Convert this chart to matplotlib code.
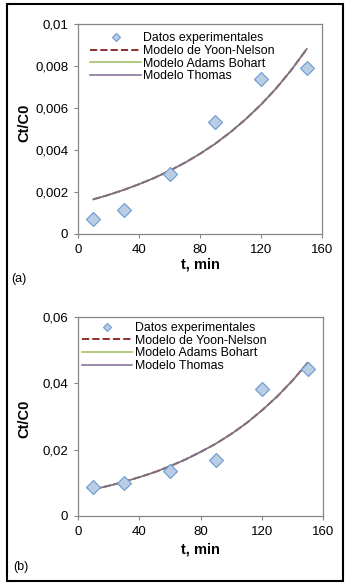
import matplotlib
matplotlib.use("Agg")
import matplotlib.pyplot as plt
from matplotlib.patches import Rectangle

plt.rcParams['font.family'] = ['Liberation Sans', 'DejaVu Sans']

# experimental points
t_exp = [10, 30, 60, 90, 120, 150]
exp_a = [0.00071, 0.00114, 0.00287, 0.00533, 0.00740, 0.00790]
exp_b = [0.00865, 0.0100, 0.01357, 0.01688, 0.0383, 0.0443]

# model curves (the three models overlap)
t_mod = [10, 20, 30, 40, 50, 60, 70, 80, 90, 100, 110, 120, 130, 140, 150]
yn_a = [0.00165, 0.00186, 0.00210, 0.00237, 0.00267, 0.00301, 0.00339, 0.00382,
        0.00430, 0.00485, 0.00547, 0.00616, 0.00694, 0.00782, 0.00881]
ab_a = [0.00165, 0.00186, 0.00210, 0.00237, 0.00267, 0.00301, 0.00339, 0.00382,
        0.00430, 0.00485, 0.00547, 0.00616, 0.00694, 0.00782, 0.00881]
th_a = [0.00165, 0.00186, 0.00210, 0.00237, 0.00267, 0.00301, 0.00339, 0.00382,
        0.00430, 0.00485, 0.00547, 0.00616, 0.00694, 0.00782, 0.00881]
yn_b = [0.0080, 0.0091, 0.0103, 0.0117, 0.0132, 0.0150, 0.0170, 0.0193,
        0.0218, 0.0247, 0.0280, 0.0318, 0.0360, 0.0408, 0.0462]
ab_b = [0.0080, 0.0091, 0.0103, 0.0117, 0.0132, 0.0150, 0.0170, 0.0193,
        0.0218, 0.0247, 0.0280, 0.0318, 0.0360, 0.0408, 0.0462]
th_b = [0.0080, 0.0091, 0.0103, 0.0117, 0.0132, 0.0150, 0.0170, 0.0193,
        0.0218, 0.0247, 0.0280, 0.0318, 0.0360, 0.0408, 0.0462]

xticks = [0, 40, 80, 120, 160]
yticks_a = [0, 0.002, 0.004, 0.006, 0.008, 0.01]
ylabels_a = ['0', '0,002', '0,004', '0,006', '0,008', '0,01']
yticks_b = [0, 0.02, 0.04, 0.06]
ylabels_b = ['0', '0,02', '0,04', '0,06']

W, H = 351, 588
fig = plt.figure(figsize=(W / 100, H / 100), dpi=100)

grey = '#868686'


def panel(rect, exp, yn, ab, th, yticks, ylabels, leg_anchor, xlab_y, ylab_y):
    ax = fig.add_axes(rect)
    ax.plot(t_exp, exp, linestyle='none', marker='D', markersize=6.8,
            markerfacecolor='#b9cde5', markeredgecolor='#6a9ad0',
            markeredgewidth=0.8, label='Datos experimentales', zorder=5)
    ax.plot(t_mod, yn, color='#8c2f2d', linestyle='--', lw=1.4,
            label='Modelo de Yoon-Nelson')
    ax.plot(t_mod, ab, color='#9bbb59', lw=1.1, label='Modelo Adams Bohart')
    ax.plot(t_mod, th, color='#7f6a90', lw=1.1, label='Modelo Thomas')
    ax.set_xlim(0, 160)
    ax.set_ylim(yticks[0], yticks[-1])
    ax.set_xticks(xticks)
    ax.set_xticklabels([str(v) for v in xticks])
    ax.set_yticks(yticks)
    ax.set_yticklabels(ylabels)
    for s in ax.spines.values():
        s.set_color(grey)
        s.set_linewidth(0.9)
    ax.tick_params(direction='out', length=3, width=0.8, color=grey,
                   labelsize=9.5, pad=4)
    ax.set_xlabel('t, min', fontsize=10.5, fontweight='bold')
    ax.set_ylabel('Ct/C0', fontsize=10.5, fontweight='bold')
    ax.xaxis.set_label_coords(0.5, xlab_y)
    ax.yaxis.set_label_coords(-0.19, ylab_y)
    ax.legend(loc='upper left', bbox_to_anchor=leg_anchor, frameon=False,
              fontsize=8.9, borderpad=0, borderaxespad=0, labelspacing=0.05,
              handlelength=4.1, handletextpad=0.2, markerscale=0.6)
    return ax


ax1 = panel([78 / W, 1 - 234 / H, 244 / W, 210 / H], exp_a, yn_a, ab_a, th_a,
            yticks_a, ylabels_a, (0.05, 0.96), -0.11, 0.53)
ax2 = panel([78 / W, 1 - 516 / H, 245 / W, 199 / H], exp_b, yn_b, ab_b, th_b,
            yticks_b, ylabels_b, (0.015, 0.975), -0.135, 0.49)

fig.text(11 / W, 1 - 279 / H, '(a)', fontsize=9, va='center')
fig.text(13 / W, 1 - 567 / H, '(b)', fontsize=9, va='center')

fig.add_artist(Rectangle((7 / W, 1 - 581 / H), 336 / W, 577 / H,
                         transform=fig.transFigure, fill=False,
                         lw=1.5, ec='black'))

fig.savefig('out.png', dpi=100)
